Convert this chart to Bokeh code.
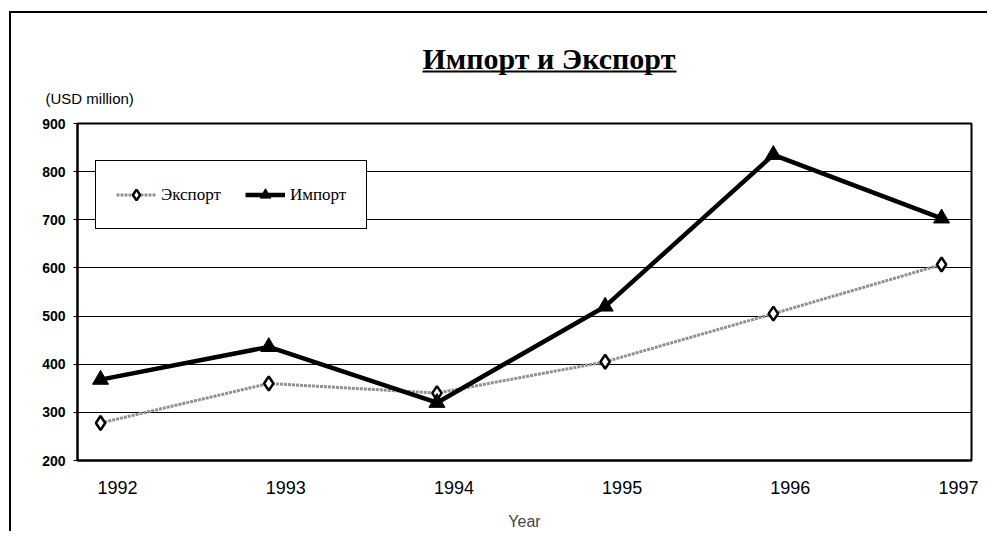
from bokeh.plotting import figure
from bokeh.models import (Range1d, LinearAxis, Legend, LegendItem,
                          FixedTicker, ColumnDataSource, Title)
from bokeh.embed import file_html
from bokeh.resources import INLINE

years = [1992, 1993, 1994, 1995, 1996, 1997]
export_vals = [278, 360, 340, 405, 505, 607]
import_vals = [368, 436, 320, 520, 835, 703]
y_ticks = [200, 300, 400, 500, 600, 700, 800, 900]

title_text = "Импорт и Экспорт"
unit_text = "(USD million)"
x_title = "Year"
export_name = "Экспорт"
import_name = "Импорт"

src = ColumnDataSource(dict(year=years, exp=export_vals, imp=import_vals))

# canvas origin on the page (after css margin + border)
CX, CY = 11, 13
W, H = 978, 520
FL, FR, FT, FB = 77 - CX, 971 - CX, 123 - CY, 460 - CY
p = figure(width=W, height=H, output_backend="svg", toolbar_location=None, title=None,
           x_range=Range1d(1991.863, 1997.178), y_range=Range1d(200, 900),
           x_axis_location=None,
           min_border_left=FL, min_border_right=W - FR, min_border_top=FT, min_border_bottom=H - FB)
p.styles = {"margin-left": "9px", "margin-top": "11px",
            "border-left": "2px solid black", "border-top": "2px solid black"}
p.background_fill_color = "white"
p.border_fill_color = "white"
p.outline_line_color = "black"
p.outline_line_width = 2

# y axis
p.yaxis.ticker = FixedTicker(ticks=y_ticks)
p.yaxis.axis_line_width = 2
p.yaxis.axis_line_color = "black"
p.yaxis.major_tick_out = 4
p.yaxis.major_tick_in = 0
p.yaxis.minor_tick_line_color = None
p.yaxis.major_label_standoff = 8
p.yaxis.major_label_text_font = "Liberation Sans"
p.yaxis.major_label_text_font_size = "14px"
p.yaxis.major_label_text_font_style = "bold"
p.yaxis.major_label_text_color = "black"
p.ygrid.ticker = FixedTicker(ticks=y_ticks)
p.ygrid.grid_line_color = "black"
p.ygrid.grid_line_width = 1
p.ygrid.grid_line_alpha = 1
p.xgrid.visible = False

# x axis with labels slightly right of the points (as in the reference)
shift = 0.101
p.extra_x_ranges = {"lbl": Range1d(1991.863 - shift, 1997.178 - shift),
                    "px": Range1d(0, FR - FL)}
xa = LinearAxis(x_range_name="lbl", ticker=FixedTicker(ticks=years))
xa.axis_line_color = "black"
xa.axis_line_width = 2
xa.major_tick_line_color = None
xa.minor_tick_line_color = None
xa.major_label_standoff = 14
xa.major_label_text_font = "Liberation Sans"
xa.major_label_text_font_size = "18px"
xa.major_label_text_color = "black"
xa.axis_label = x_title
xa.axis_label_text_font = "Liberation Sans"
xa.axis_label_text_font_size = "16px"
xa.axis_label_text_font_style = "normal"
xa.axis_label_standoff = 16
p.add_layout(xa, "below")

# series
r_exp_line = p.line("year", "exp", source=src, line_color="#909090", line_width=3,
                    line_dash="3 1")
r_exp_pts = p.scatter("year", "exp", source=src, marker="diamond", size=14,
                      fill_color="white", line_color="black", line_width=2.5)
r_imp_line = p.line("year", "imp", source=src, line_color="black", line_width=4.5)
r_imp_pts = p.scatter("year", "imp", source=src, marker="triangle", size=16,
                      fill_color="black", line_color="black")

legend = Legend(items=[LegendItem(label=export_name, renderers=[r_exp_line, r_exp_pts]),
                       LegendItem(label=import_name, renderers=[r_imp_line, r_imp_pts])],
                orientation="horizontal", location=(18, 231))
legend.label_text_font = "Liberation Serif"
legend.label_text_font_size = "17px"
legend.label_text_color = "black"
legend.border_line_color = "black"
legend.border_line_width = 1.5
legend.border_line_alpha = 1
legend.background_fill_alpha = 1
legend.padding = 20
legend.spacing = 24
legend.glyph_width = 40
legend.label_height = 27
legend.glyph_height = 27
legend.margin = 0
p.add_layout(legend, "center")

# above the plot, nearest the frame first: unit note, title underline, title
p.add_layout(Title(text=unit_text, align="left", offset=45 - 77, standoff=33,
                   text_font="Liberation Sans", text_font_size="15px",
                   text_font_style="normal", text_color="black"), "above")
ul = LinearAxis(x_range_name="px", ticker=FixedTicker(ticks=[]), bounds=(422 - 77, 676 - 77))
ul.axis_line_width = 2
ul.axis_line_color = "black"
ul.major_tick_line_color = None
ul.minor_tick_line_color = None
ul.major_label_text_font_size = "0px"
p.add_layout(ul, "above")
p.add_layout(Title(text=title_text, align="left", offset=422 - 77, standoff=-6,
                   text_font="Liberation Serif", text_font_size="30px",
                   text_font_style="bold", text_color="black"), "above")

open("out.html", "w").write(file_html(p, INLINE))
